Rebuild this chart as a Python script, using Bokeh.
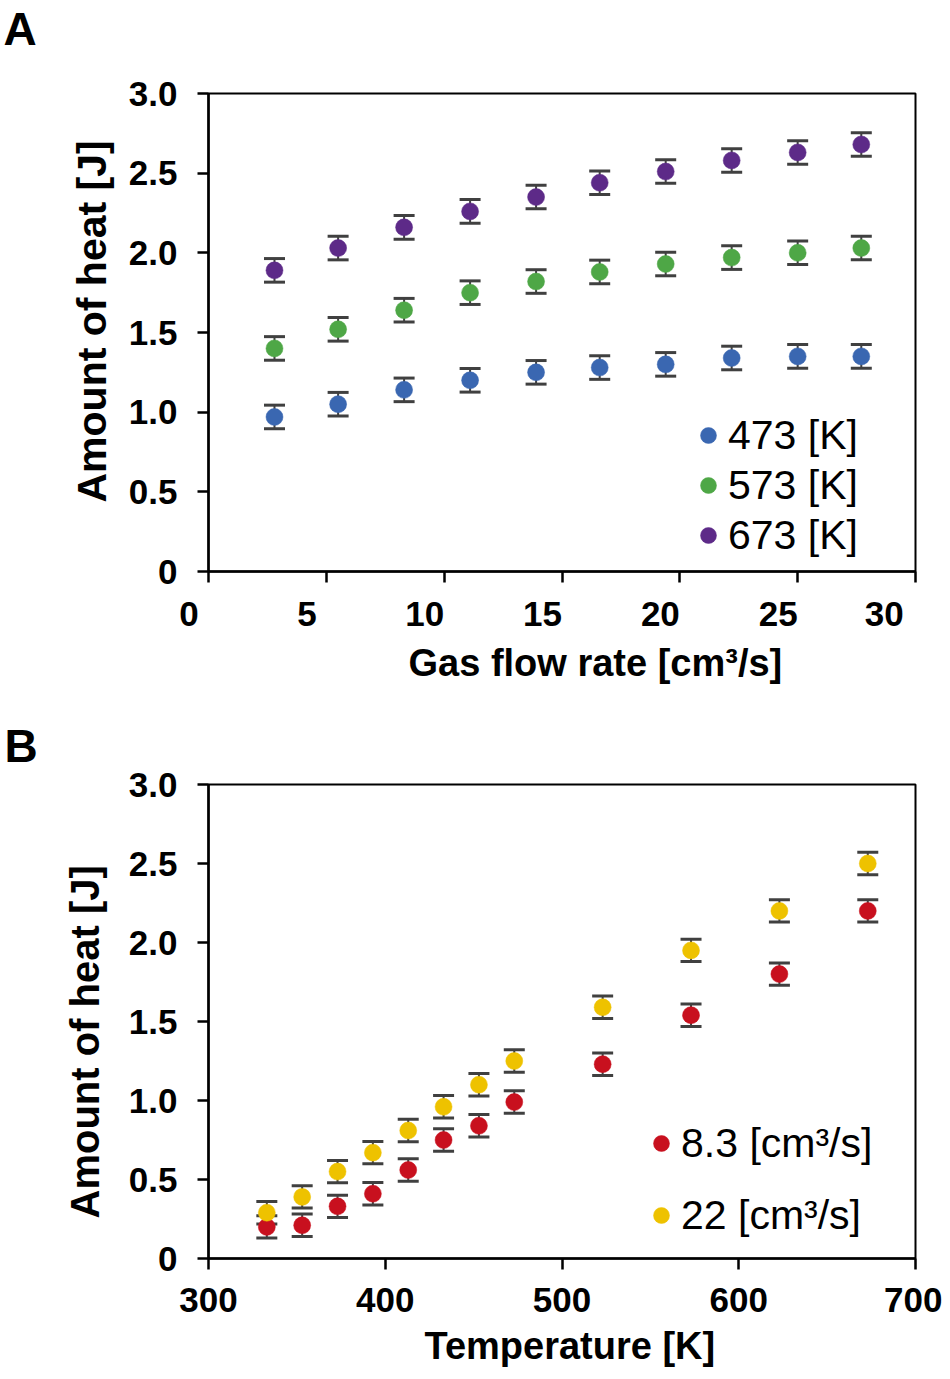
from bokeh.plotting import figure
from bokeh.models import (Range1d, Whisker, ColumnDataSource, Legend, LegendItem,
                          Title, FixedTicker, NumeralTickFormatter, TeeHead)
from bokeh.layouts import column
from bokeh.embed import file_html
from bokeh.resources import INLINE

FONT = "Liberation Sans"

# ---------------- Panel A data ----------------
flow_rate = [2.8, 5.5, 8.3, 11.1, 13.9, 16.6, 19.4, 22.2, 25.0, 27.7]
heat_473 = [0.97, 1.05, 1.14, 1.20, 1.25, 1.28, 1.30, 1.34, 1.35, 1.35]
heat_573 = [1.40, 1.52, 1.64, 1.75, 1.82, 1.88, 1.93, 1.97, 2.00, 2.03]
heat_673 = [1.89, 2.03, 2.16, 2.26, 2.35, 2.44, 2.51, 2.58, 2.63, 2.68]
err_a = 0.074
labels_a = ["473 [K]", "573 [K]", "673 [K]"]
colors_a = ["#3A67B1", "#4EA746", "#5D2A88"]
a_xticks = [0, 5, 10, 15, 20, 25, 30]

# ---------------- Panel B data ----------------
temperature = [333, 353, 373, 393, 413, 433, 453, 473, 523, 573, 623, 673]
heat_83 = [0.20, 0.21, 0.33, 0.41, 0.56, 0.75, 0.84, 0.99, 1.23, 1.54, 1.80, 2.20]
heat_22 = [0.29, 0.39, 0.55, 0.67, 0.81, 0.96, 1.10, 1.25, 1.59, 1.95, 2.20, 2.50]
err_b = 0.071
labels_b = ["8.3 [cm\u00b3/s]", "22 [cm\u00b3/s]"]
colors_b = ["#C8101E", "#EEC200"]
b_xticks = [300, 400, 500, 600, 700]

y_ticks = [0, 0.5, 1.0, 1.5, 2.0, 2.5, 3.0]
y_title = "Amount of heat [J]"
a_xtitle = "Gas flow rate [cm\u00b3/s]"
b_xtitle = "Temperature [K]"

ERR_COLOR = "#404040"
NBSP = "\u00a0"


def style(p):
    p.xgrid.visible = False
    p.ygrid.visible = False
    p.outline_line_color = "black"
    p.outline_line_width = 2
    p.background_fill_color = "white"
    p.border_fill_color = "white"
    for ax in (p.xaxis[0], p.yaxis[0]):
        ax.axis_line_color = "black"
        ax.axis_line_width = 2.5
        ax.major_tick_line_color = "black"
        ax.major_tick_line_width = 2.5
        ax.major_tick_out = 11
        ax.major_tick_in = 0
        ax.minor_tick_line_color = None
        ax.major_label_text_font = FONT
        ax.major_label_text_font_style = "bold"
        ax.major_label_text_font_size = "35px"
        ax.major_label_text_color = "black"
    p.xaxis.major_label_standoff = 18
    p.yaxis.ticker = FixedTicker(ticks=y_ticks)
    p.yaxis.formatter = NumeralTickFormatter(format="0.0")
    p.yaxis.major_label_overrides = {0: "0"}
    p.yaxis.major_label_standoff = 20


def series(p, x, y, err, color, size=17):
    src = ColumnDataSource(dict(x=x, y=y,
                                upper=[v + err for v in y],
                                lower=[v - err for v in y]))
    w = Whisker(source=src, base="x", upper="upper", lower="lower",
                line_color=ERR_COLOR, line_width=2, level="underlay",
                upper_head=TeeHead(size=21, line_width=3, line_color=ERR_COLOR),
                lower_head=TeeHead(size=21, line_width=3, line_color=ERR_COLOR))
    p.add_layout(w)
    return p.scatter("x", "y", source=src, size=size, fill_color=color,
                     line_color=color, line_width=0.5)


def add_title(p, text, place, size, align="left", offset=0, standoff=10):
    p.add_layout(Title(text=text, text_font=FONT, text_font_size=size,
                       text_font_style="bold", text_color="black",
                       align=align, offset=offset, standoff=standoff), place)


def legend(items, loc, row_h):
    return Legend(items=items, location=loc, glyph_width=40, glyph_height=40,
                  label_height=row_h, spacing=0, padding=0, margin=0,
                  label_standoff=0, label_text_font=FONT,
                  label_text_font_size="41px", label_text_color="black",
                  border_line_color=None, background_fill_alpha=0)


# ---------------- Figure A ----------------
pa = figure(width=942, height=700, output_backend="svg", toolbar_location=None,
            x_range=Range1d(0, 30), y_range=Range1d(0, 3.0),
            min_border_left=208, min_border_right=26,
            min_border_top=93, min_border_bottom=129)
style(pa)
pa.xaxis.ticker = FixedTicker(ticks=a_xticks)
pa.xaxis.major_label_standoff = 11
# in the original the x tick labels of panel A sit a little left of their ticks
pa.xaxis.major_label_overrides = {t: str(t) + NBSP * 4 for t in a_xticks}

rs_a = [series(pa, flow_rate, ys, err_a, c)
        for ys, c in zip([heat_473, heat_573, heat_673], colors_a)]

# spacer between the frame and the panel letter
pa.add_layout(Title(text=" ", text_font_size="2px", standoff=35), "above")
add_title(pa, "A", "above", "46px", offset=-205, standoff=0)
add_title(pa, y_title, "left", "41px", offset=69, standoff=21)
add_title(pa, a_xtitle, "below", "38px", offset=200, standoff=9)

pa.add_layout(legend([LegendItem(label=l, renderers=[r]) for l, r in zip(labels_a, rs_a)],
                     (480, 11), 50))

# ---------------- Figure B ----------------
pb = figure(width=942, height=675, output_backend="svg", toolbar_location=None,
            x_range=Range1d(300, 700), y_range=Range1d(0, 3.0),
            min_border_left=207, min_border_right=27,
            min_border_top=84, min_border_bottom=115)
style(pb)
pb.xaxis.ticker = FixedTicker(ticks=b_xticks)

rs_b = [series(pb, temperature, ys, err_b, c)
        for ys, c in zip([heat_83, heat_22], colors_b)]

add_title(pb, "B", "above", "46px", offset=-204, standoff=25)
add_title(pb, y_title, "left", "40px", offset=40, standoff=37)
add_title(pb, b_xtitle, "below", "38px", offset=216, standoff=17)

pb.add_layout(legend([LegendItem(label=l, renderers=[r]) for l, r in zip(labels_b, rs_b)],
                     (433, 7), 72))

layout = column(pa, pb, spacing=0)
open("out.html", "w").write(file_html(layout, INLINE))
